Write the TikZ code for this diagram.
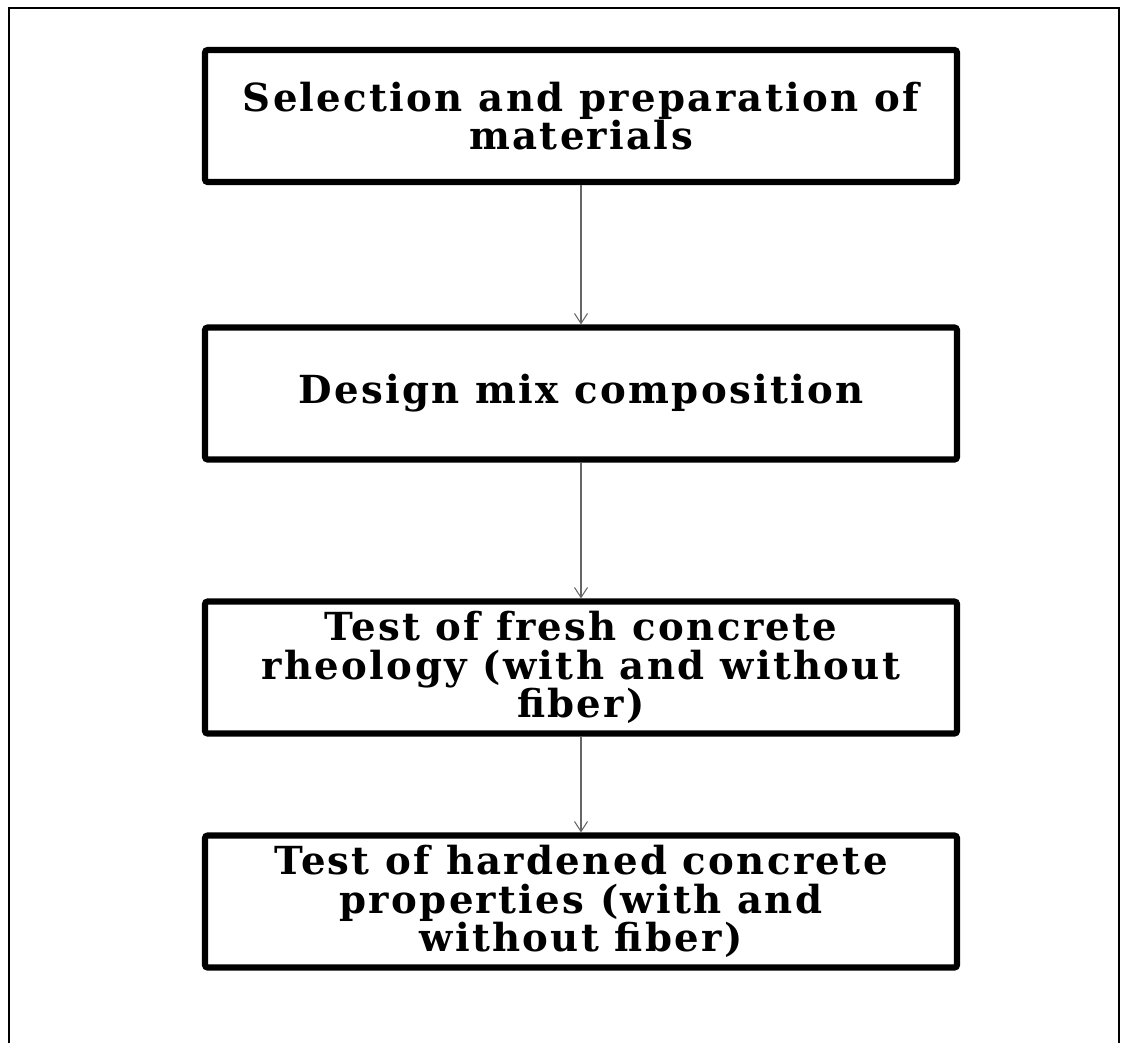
\documentclass[tikz,border=0pt]{standalone}
\usepackage{fontspec}
\setmainfont{DejaVu Serif}
\newfontfamily\stagefont[LetterSpace=6]{DejaVu Serif}
\usetikzlibrary{arrows.meta}

\begin{document}
\begin{tikzpicture}[line width=1pt,
	stagebox/.style={draw, line width=3.5pt, rounded corners=1.5pt, minimum width=15.04cm, minimum height=2.64cm, align=center, font=\stagefont\fontsize{22}{22}\selectfont\bfseries},
	flowarrow/.style={-{Straight Barb[length=2mm,width=2.6mm]}, draw=black!60, line width=0.6pt}]
\useasboundingbox (0,0) rectangle (22.52,-20.86);

% outer frame, open at the bottom
\draw[line width=1.3pt] (0.18,-20.86) -- (0.18,-0.16) -- (22.38,-0.16) -- (22.38,-20.86);

\node[stagebox] (materials) at (11.62,-2.32) {Selection and preparation of\\materials};
\node[stagebox] (mix) at (11.62,-7.87) {Design mix composition};
\node[stagebox] (fresh) at (11.62,-13.35) {Test of fresh concrete\\rheology (with and without\\fiber)};
\node[stagebox] (hardened) at (11.62,-18.03) {Test of hardened concrete\\properties (with and\\without fiber)};

\draw[flowarrow] (materials) -- (mix);
\draw[flowarrow] (mix) -- (fresh);
\draw[flowarrow] (fresh) -- (hardened);

\end{tikzpicture}
\end{document}
